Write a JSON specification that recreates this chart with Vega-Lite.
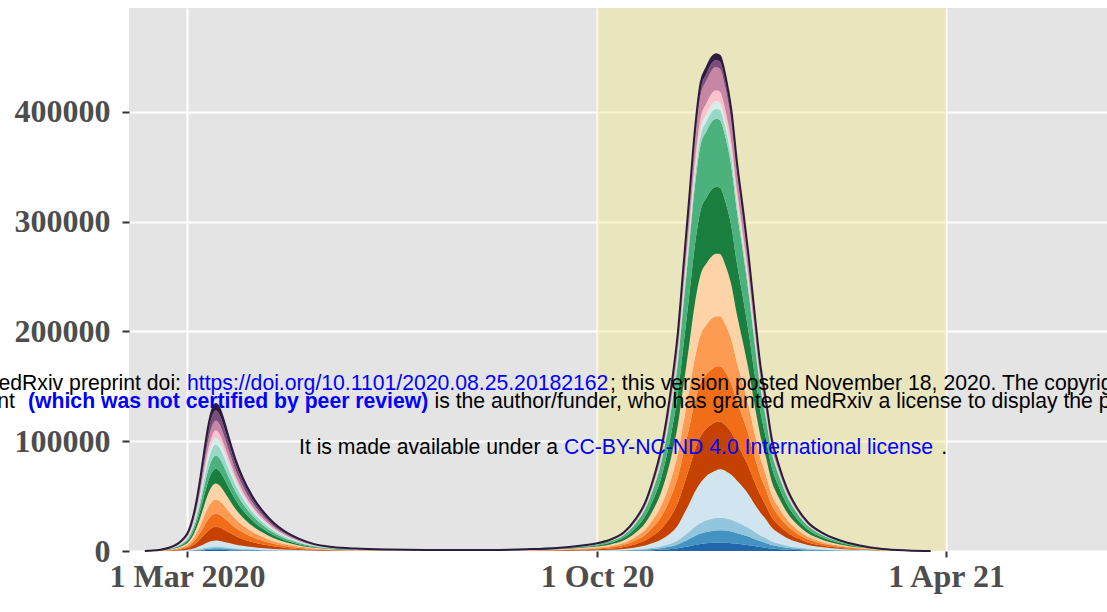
{
"$schema": "https://vega.github.io/schema/vega-lite/v6.json",
"width": 978,
"height": 543,
"autosize": {"type": "none"},
"padding": {"left": 129, "top": 8, "right": 0, "bottom": 61},
"background": "white",
"config": {
"view": {"fill": "#e4e4e4", "stroke": null},
"axis": {"domain": false, "grid": true, "gridColor": "#ffffff", "gridWidth": 2, "tickColor": "#333333", "tickWidth": 2, "labelFont": "Liberation Serif", "labelFontWeight": "bold", "labelFontSize": 32, "labelColor": "#4d4d4d"},
"axisX": {"tickSize": 6, "labelPadding": 4},
"axisY": {"tickSize": 7, "labelPadding": 12}
},
"datasets": {
"cases": [
{"date":"2020-02-08","a":0,"b":0,"c":0,"d":0,"e":0,"f":0,"g":0,"h":0,"i":0,"j":0,"k":0,"l":0,"m":0,"n":0,"o":0,"p":0},
{"date":"2020-02-10","a":2,"b":3,"c":3,"d":12,"e":28,"f":27,"g":29,"h":32,"i":30,"j":27,"k":22,"l":15,"m":15,"n":20,"o":20,"p":13},
{"date":"2020-02-16","a":9,"b":13,"c":13,"d":49,"e":112,"f":107,"g":116,"h":130,"i":121,"j":107,"k":90,"l":58,"m":58,"n":81,"o":81,"p":54},
{"date":"2020-02-21","a":24,"b":36,"c":36,"d":131,"e":299,"f":287,"g":310,"h":346,"i":322,"j":287,"k":239,"l":155,"m":155,"n":215,"o":215,"p":143},
{"date":"2020-02-25","a":49,"b":73,"c":73,"d":267,"e":606,"f":582,"g":631,"h":703,"i":655,"j":582,"k":485,"l":315,"m":315,"n":437,"o":437,"p":291},
{"date":"2020-02-28","a":82,"b":123,"c":123,"d":451,"e":1026,"f":985,"g":1067,"h":1190,"i":1108,"j":985,"k":821,"l":534,"m":534,"n":739,"o":739,"p":493},
{"date":"2020-03-02","a":142,"b":213,"c":213,"d":780,"e":1772,"f":1701,"g":1843,"h":2056,"i":1914,"j":1701,"k":1418,"l":921,"m":921,"n":1276,"o":1276,"p":851},
{"date":"2020-03-04","a":224,"b":336,"c":336,"d":1231,"e":2799,"f":2687,"g":2910,"h":3246,"i":3022,"j":2687,"k":2239,"l":1455,"m":1455,"n":2015,"o":2015,"p":1343},
{"date":"2020-03-06","a":343,"b":515,"c":515,"d":1888,"e":4291,"f":4119,"g":4463,"h":4978,"i":4634,"j":4119,"k":3433,"l":2231,"m":2231,"n":3090,"o":3090,"p":2060},
{"date":"2020-03-08","a":500,"b":750,"c":750,"d":2750,"e":6250,"f":6000,"g":6500,"h":7250,"i":6750,"j":6000,"k":5000,"l":3250,"m":3250,"n":4500,"o":4500,"p":3000},
{"date":"2020-03-10","a":679,"b":1019,"c":1019,"d":3735,"e":8489,"f":8149,"g":8828,"h":9847,"i":9168,"j":8149,"k":6791,"l":4414,"m":4414,"n":6112,"o":6112,"p":4075},
{"date":"2020-03-12","a":843,"b":1265,"c":1265,"d":4638,"e":10541,"f":10119,"g":10963,"h":12228,"i":11384,"j":10119,"k":8433,"l":5481,"m":5481,"n":7590,"o":7590,"p":5060},
{"date":"2020-03-14","a":955,"b":1433,"c":1433,"d":5254,"e":11940,"f":11463,"g":12418,"h":13851,"i":12896,"j":11463,"k":9552,"l":6209,"m":6209,"n":8597,"o":8597,"p":5731},
{"date":"2020-03-16","a":1000,"b":1500,"c":1500,"d":5500,"e":12500,"f":12000,"g":13000,"h":14500,"i":13500,"j":12000,"k":10000,"l":6500,"m":6500,"n":9000,"o":9000,"p":6000},
{"date":"2020-03-18","a":970,"b":1455,"c":1455,"d":5336,"e":12126,"f":11641,"g":12611,"h":14066,"i":13096,"j":11641,"k":9701,"l":6306,"m":6306,"n":8731,"o":8731,"p":5821},
{"date":"2020-03-20","a":896,"b":1343,"c":1343,"d":4925,"e":11194,"f":10746,"g":11642,"h":12985,"i":12089,"j":10746,"k":8955,"l":5821,"m":5821,"n":8060,"o":8060,"p":5373},
{"date":"2020-03-23","a":761,"b":1142,"c":1142,"d":4187,"e":9515,"f":9134,"g":9896,"h":11037,"i":10276,"j":9134,"k":7612,"l":4948,"m":4948,"n":6851,"o":6851,"p":4567},
{"date":"2020-03-26","a":634,"b":951,"c":951,"d":3489,"e":7929,"f":7612,"g":8246,"h":9197,"i":8563,"j":7612,"k":6343,"l":4123,"m":4123,"n":5709,"o":5709,"p":3806},
{"date":"2020-03-30","a":500,"b":750,"c":750,"d":2750,"e":6250,"f":6000,"g":6500,"h":7250,"i":6750,"j":6000,"k":5000,"l":3250,"m":3250,"n":4500,"o":4500,"p":3000},
{"date":"2020-04-04","a":373,"b":560,"c":560,"d":2052,"e":4664,"f":4478,"g":4851,"h":5410,"i":5037,"j":4478,"k":3731,"l":2425,"m":2425,"n":3358,"o":3358,"p":2239},
{"date":"2020-04-09","a":280,"b":420,"c":420,"d":1539,"e":3498,"f":3358,"g":3638,"h":4058,"i":3778,"j":3358,"k":2799,"l":1819,"m":1819,"n":2519,"o":2519,"p":1679},
{"date":"2020-04-15","a":194,"b":291,"c":291,"d":1067,"e":2425,"f":2328,"g":2522,"h":2813,"i":2619,"j":2328,"k":1940,"l":1261,"m":1261,"n":1746,"o":1746,"p":1164},
{"date":"2020-04-21","a":134,"b":201,"c":201,"d":739,"e":1679,"f":1612,"g":1746,"h":1948,"i":1813,"j":1612,"k":1343,"l":873,"m":873,"n":1209,"o":1209,"p":806},
{"date":"2020-04-28","a":86,"b":129,"c":129,"d":472,"e":1073,"f":1030,"g":1116,"h":1244,"i":1159,"j":1030,"k":858,"l":558,"m":558,"n":772,"o":772,"p":515},
{"date":"2020-05-06","a":49,"b":73,"c":73,"d":267,"e":606,"f":582,"g":631,"h":703,"i":655,"j":582,"k":485,"l":315,"m":315,"n":437,"o":437,"p":291},
{"date":"2020-05-16","a":28,"b":41,"c":41,"d":152,"e":345,"f":331,"g":359,"h":400,"i":373,"j":331,"k":276,"l":179,"m":179,"n":248,"o":248,"p":166},
{"date":"2020-05-28","a":16,"b":25,"c":25,"d":90,"e":205,"f":197,"g":213,"h":238,"i":222,"j":197,"k":164,"l":107,"m":107,"n":148,"o":148,"p":99},
{"date":"2020-06-15","a":10,"b":15,"c":15,"d":53,"e":121,"f":116,"g":126,"h":141,"i":131,"j":116,"k":97,"l":63,"m":63,"n":87,"o":87,"p":58},
{"date":"2020-07-10","a":10,"b":15,"c":16,"d":60,"e":93,"f":106,"g":97,"h":120,"i":128,"j":131,"k":19,"l":15,"m":21,"n":44,"o":14,"p":11},
{"date":"2020-08-05","a":12,"b":17,"c":17,"d":67,"e":103,"f":118,"g":108,"h":133,"i":143,"j":145,"k":21,"l":16,"m":23,"n":49,"o":15,"p":12},
{"date":"2020-08-25","a":19,"b":27,"c":28,"d":107,"e":165,"f":189,"g":172,"h":213,"i":228,"j":232,"k":34,"l":26,"m":38,"n":79,"o":24,"p":20},
{"date":"2020-09-10","a":33,"b":48,"c":49,"d":186,"e":288,"f":331,"g":301,"h":374,"i":400,"j":406,"k":59,"l":46,"m":66,"n":138,"o":43,"p":35},
{"date":"2020-09-22","a":56,"b":82,"c":83,"d":320,"e":494,"f":567,"g":516,"h":640,"i":685,"j":697,"k":101,"l":79,"m":113,"n":236,"o":73,"p":59},
{"date":"2020-10-01","a":81,"b":119,"c":121,"d":466,"e":720,"f":827,"g":753,"h":934,"i":999,"j":1016,"k":147,"l":115,"m":164,"n":344,"o":107,"p":87},
{"date":"2020-10-08","a":122,"b":179,"c":182,"d":699,"e":1080,"f":1240,"g":1129,"h":1401,"i":1498,"j":1524,"k":221,"l":172,"m":246,"n":516,"o":160,"p":130},
{"date":"2020-10-15","a":197,"b":290,"c":295,"d":1132,"e":1749,"f":2008,"g":1828,"h":2268,"i":2426,"j":2467,"k":357,"l":278,"m":399,"n":835,"o":260,"p":211},
{"date":"2020-10-21","a":337,"b":494,"c":503,"d":1931,"e":2983,"f":3426,"g":3118,"h":3869,"i":4138,"j":4209,"k":610,"l":475,"m":680,"n":1424,"o":443,"p":359},
{"date":"2020-10-26","a":511,"b":750,"c":763,"d":2930,"e":4527,"f":5198,"g":4731,"h":5870,"i":6279,"j":6386,"k":925,"l":720,"m":1032,"n":2161,"o":672,"p":545},
{"date":"2020-10-30","a":743,"b":1090,"c":1110,"d":4262,"e":6584,"f":7561,"g":6881,"h":8538,"i":9133,"j":9289,"k":1345,"l":1048,"m":1501,"n":3144,"o":977,"p":793},
{"date":"2020-11-03","a":1045,"b":1533,"c":1561,"d":5993,"e":9258,"f":10632,"g":9676,"h":12006,"i":12842,"j":13061,"k":1891,"l":1473,"m":2110,"n":4420,"o":1374,"p":1115},
{"date":"2020-11-06","a":1371,"b":2010,"c":2047,"d":7859,"e":12141,"f":13943,"g":12689,"h":15744,"i":16841,"j":17128,"k":2480,"l":1932,"m":2768,"n":5796,"o":1802,"p":1462},
{"date":"2020-11-09","a":1789,"b":2623,"c":2671,"d":10255,"e":15843,"f":18193,"g":16558,"h":20544,"i":21975,"j":22350,"k":3237,"l":2521,"m":3611,"n":7564,"o":2351,"p":1908},
{"date":"2020-11-12","a":2407,"b":3530,"c":3594,"d":13799,"e":20162,"f":23154,"g":21073,"h":26146,"i":27967,"j":28444,"k":4119,"l":3209,"m":4596,"n":9626,"o":2992,"p":2428},
{"date":"2020-11-15","a":3391,"b":4973,"c":5064,"d":19440,"e":26227,"f":30110,"g":27415,"h":33994,"i":36370,"j":36978,"k":5361,"l":4173,"m":5970,"n":12519,"o":3883,"p":3159},
{"date":"2020-11-18","a":4435,"b":6504,"c":6623,"d":25426,"e":32236,"f":37009,"g":33697,"h":41782,"i":44703,"j":45451,"k":6590,"l":5129,"m":7338,"n":15388,"o":4773,"p":3883},
{"date":"2020-11-21","a":5578,"b":8181,"c":8329,"d":31979,"e":38241,"f":43903,"g":39973,"h":49565,"i":53030,"j":53917,"k":7817,"l":6085,"m":8705,"n":18254,"o":5662,"p":4606},
{"date":"2020-11-24","a":6442,"b":9448,"c":9620,"d":36933,"e":42245,"f":48500,"g":44159,"h":54756,"i":58583,"j":59564,"k":8636,"l":6722,"m":9616,"n":20166,"o":6255,"p":5088},
{"date":"2020-11-27","a":7057,"b":10350,"c":10538,"d":40459,"e":43124,"f":49495,"g":45085,"h":55866,"i":59786,"j":60766,"k":8821,"l":6861,"m":9801,"n":20582,"o":6371,"p":5195},
{"date":"2020-11-30","a":7409,"b":10866,"c":11063,"d":42475,"e":43903,"f":50389,"g":45899,"h":56875,"i":60866,"j":61864,"k":8980,"l":6985,"m":9978,"n":20954,"o":6486,"p":5288},
{"date":"2020-12-02","a":7575,"b":11110,"c":11312,"d":43430,"e":44000,"f":50500,"g":46000,"h":57000,"i":61000,"j":62000,"k":9000,"l":7000,"m":10000,"n":21000,"o":6500,"p":5300},
{"date":"2020-12-04","a":7674,"b":11255,"c":11460,"d":43998,"e":43710,"f":50167,"g":45696,"h":56624,"i":60597,"j":61591,"k":8941,"l":6954,"m":9934,"n":20861,"o":6457,"p":5265},
{"date":"2020-12-07","a":7528,"b":11041,"c":11241,"d":43159,"e":41664,"f":47818,"g":43557,"h":53973,"i":57761,"j":58708,"k":8522,"l":6628,"m":9469,"n":19885,"o":6155,"p":5019},
{"date":"2020-12-10","a":7162,"b":10504,"c":10695,"d":41061,"e":38548,"f":44243,"g":40301,"h":49938,"i":53442,"j":54318,"k":7885,"l":6133,"m":8761,"n":18398,"o":5695,"p":4643},
{"date":"2020-12-13","a":6597,"b":9676,"c":9852,"d":37823,"e":33576,"f":38524,"g":35107,"h":43472,"i":46535,"j":47281,"k":6872,"l":5341,"m":7618,"n":16022,"o":4948,"p":4045},
{"date":"2020-12-16","a":6005,"b":8808,"c":8968,"d":34430,"e":29510,"f":33859,"g":30856,"h":38208,"i":40900,"j":41556,"k":6040,"l":4694,"m":6696,"n":14082,"o":4349,"p":3555},
{"date":"2020-12-19","a":5316,"b":7797,"c":7939,"d":30478,"e":25252,"f":28974,"g":26404,"h":32695,"i":34999,"j":35560,"k":5169,"l":4017,"m":5730,"n":12050,"o":3721,"p":3042},
{"date":"2020-12-22","a":4445,"b":6519,"c":6637,"d":25482,"e":20430,"f":23441,"g":21362,"h":26452,"i":28316,"j":28770,"k":4182,"l":3250,"m":4636,"n":9749,"o":3011,"p":2461},
{"date":"2020-12-25","a":3653,"b":5357,"c":5454,"d":20941,"e":15791,"f":18112,"g":16514,"h":20433,"i":21879,"j":22221,"k":3234,"l":2511,"m":3577,"n":7534,"o":2321,"p":1903},
{"date":"2020-12-28","a":2977,"b":4366,"c":4445,"d":17066,"e":12670,"f":14532,"g":13250,"h":16395,"i":17555,"j":17830,"k":2595,"l":2015,"m":2870,"n":6045,"o":1862,"p":1527},
{"date":"2020-12-31","a":2222,"b":3259,"c":3318,"d":12740,"e":9458,"f":10848,"g":9891,"h":12238,"i":13104,"j":13309,"k":1937,"l":1504,"m":2142,"n":4512,"o":1390,"p":1140},
{"date":"2021-01-04","a":1661,"b":2437,"c":2481,"d":9525,"e":7072,"f":8111,"g":7395,"h":9150,"i":9798,"j":9951,"k":1448,"l":1125,"m":1602,"n":3374,"o":1039,"p":852},
{"date":"2021-01-08","a":1229,"b":1803,"c":1836,"d":7049,"e":5233,"f":6002,"g":5473,"h":6772,"i":7251,"j":7364,"k":1072,"l":832,"m":1185,"n":2497,"o":769,"p":631},
{"date":"2021-01-13","a":863,"b":1266,"c":1289,"d":4947,"e":3673,"f":4213,"g":3841,"h":4752,"i":5089,"j":5168,"k":752,"l":584,"m":832,"n":1752,"o":540,"p":443},
{"date":"2021-01-19","a":561,"b":823,"c":837,"d":3215,"e":2387,"f":2738,"g":2496,"h":3089,"i":3307,"j":3359,"k":489,"l":380,"m":541,"n":1139,"o":351,"p":288},
{"date":"2021-01-26","a":367,"b":538,"c":548,"d":2102,"e":1561,"f":1790,"g":1632,"h":2020,"i":2163,"j":2196,"k":320,"l":248,"m":354,"n":745,"o":229,"p":188},
{"date":"2021-02-04","a":216,"b":316,"c":322,"d":1237,"e":918,"f":1053,"g":960,"h":1188,"i":1272,"j":1292,"k":188,"l":146,"m":208,"n":438,"o":135,"p":111},
{"date":"2021-02-15","a":108,"b":158,"c":161,"d":618,"e":459,"f":526,"g":480,"h":594,"i":636,"j":646,"k":94,"l":73,"m":104,"n":219,"o":67,"p":55},
{"date":"2021-02-27","a":39,"b":57,"c":58,"d":223,"e":165,"f":190,"g":173,"h":214,"i":229,"j":233,"k":34,"l":26,"m":37,"n":79,"o":24,"p":20},
{"date":"2021-03-12","a":11,"b":16,"c":16,"d":62,"e":46,"f":53,"g":48,"h":59,"i":64,"j":65,"k":9,"l":7,"m":10,"n":22,"o":7,"p":6},
{"date":"2021-03-24","a":0,"b":0,"c":0,"d":0,"e":0,"f":0,"g":0,"h":0,"i":0,"j":0,"k":0,"l":0,"m":0,"n":0,"o":0,"p":0}
],
"notes": [
{"t":1573725402000,"y":146697,"s":"medRxiv preprint doi:","k":"plain"},
{"t":1583020539000,"y":146697,"s":"https://doi.org/10.1101/2020.08.25.20182162","k":"link"},
{"t":1602093151000,"y":146697,"s":"; this version posted November 18, 2020. The copyright holder for this preprint","k":"plain"},
{"t":1572025951000,"y":130296,"s":"preprint","k":"plain"},
{"t":1575853096000,"y":130296,"s":"(which was not certified by peer review)","k":"bold"},
{"t":1594177409000,"y":130296,"s":"is the author/funder, who has granted medRxiv a license to display the preprint in perpetuity.","k":"plain"},
{"t":1588069304000,"y":87927,"s":"It is made available under a","k":"plain"},
{"t":1600019552000,"y":87927,"s":"CC-BY-NC-ND 4.0 International license","k":"link"},
{"t":1617023071000,"y":87927,"s":".","k":"plain"}
]
},
"layer": [
{
"data": {"values": [{"start": "2020-10-01", "end": "2021-04-01"}]},
"mark": {"type": "rect", "color": "#f0e68c", "opacity": 0.45},
"encoding": {
"x": {"field": "start", "type": "temporal", "title": null, "scale": {"type": "utc", "domain": [1580406000000, 1624492464000], "nice": false}},
"x2": {"field": "end"}
}
},
{
"data": {"name": "cases"},
"transform": [
{"fold": ["a","b","c","d","e","f","g","h","i","j","k","l","m","n","o","p"], "as": ["key", "val"]},
{"stack": "val", "groupby": ["date"], "sort": [{"field": "key", "order": "ascending"}], "as": ["y0", "y1"]}
],
"layer": [
{
"mark": {"type": "area", "interpolate": "monotone"},
"encoding": {
"x": {"field": "date", "type": "temporal", "title": null, "scale": {"type": "utc", "domain": [1580406000000, 1624492464000], "nice": false},
"axis": {"values": [1583020800000, 1601510400000, 1617235200000], "labelAngle": 0, "labelExpr": "utcmonth(datum.value) == 2 ? '1 Mar 2020' : (utcmonth(datum.value) == 9 ? '1 Oct 20' : '1 Apr 21')"}},
"y": {"field": "y1", "type": "quantitative", "title": null, "scale": {"domain": [0, 494760], "nice": false, "zero": true},
"axis": {"values": [0, 100000, 200000, 300000, 400000], "format": "d"}},
"y2": {"field": "y0"},
"color": {"field": "key", "type": "nominal", "legend": null,
"scale": {"domain": ["a","b","c","d","e","f","g","h","i","j","k","l","m","n","o","p"],
"range": ["#2166ac","#4393c3","#92c5de","#d1e5f0","#c44100","#f16d18","#fd9b52","#fdd3a7","#1a7f3e","#4bb27d","#99d8c8","#d4efeb","#fdc1cf","#c686a4","#7b4c7c","#2d1c3e"]}}
}
},
{
"transform": [{"filter": "datum.key === 'p'"}],
"mark": {"type": "line", "interpolate": "monotone", "color": "#2d1c3e", "strokeWidth": 2},
"encoding": {
"x": {"field": "date", "type": "temporal", "title": null, "scale": {"type": "utc", "domain": [1580406000000, 1624492464000], "nice": false}},
"y": {"field": "y1", "type": "quantitative", "title": null, "scale": {"domain": [0, 494760], "nice": false, "zero": true}}
}
}
]
},
{
"data": {"name": "notes"},
"transform": [{"filter": "datum.k === 'plain'"}],
"mark": {"type": "text", "align": "left", "baseline": "alphabetic", "font": "Liberation Sans", "fontSize": 21.2, "color": "#000000"},
"encoding": {
"x": {"field": "t", "type": "temporal", "title": null, "scale": {"type": "utc", "domain": [1580406000000, 1624492464000], "nice": false}},
"y": {"field": "y", "type": "quantitative", "title": null, "scale": {"domain": [0, 494760], "nice": false, "zero": true}},
"text": {"field": "s"}
}
},
{
"data": {"name": "notes"},
"transform": [{"filter": "datum.k === 'link'"}],
"mark": {"type": "text", "align": "left", "baseline": "alphabetic", "font": "Liberation Sans", "fontSize": 21.2, "color": "#0000ff"},
"encoding": {
"x": {"field": "t", "type": "temporal", "title": null, "scale": {"type": "utc", "domain": [1580406000000, 1624492464000], "nice": false}},
"y": {"field": "y", "type": "quantitative", "title": null, "scale": {"domain": [0, 494760], "nice": false, "zero": true}},
"text": {"field": "s"}
}
},
{
"data": {"name": "notes"},
"transform": [{"filter": "datum.k === 'bold'"}],
"mark": {"type": "text", "align": "left", "baseline": "alphabetic", "font": "Liberation Sans", "fontSize": 21.2, "fontWeight": "bold", "color": "#0000ff"},
"encoding": {
"x": {"field": "t", "type": "temporal", "title": null, "scale": {"type": "utc", "domain": [1580406000000, 1624492464000], "nice": false}},
"y": {"field": "y", "type": "quantitative", "title": null, "scale": {"domain": [0, 494760], "nice": false, "zero": true}},
"text": {"field": "s"}
}
}
]
}
